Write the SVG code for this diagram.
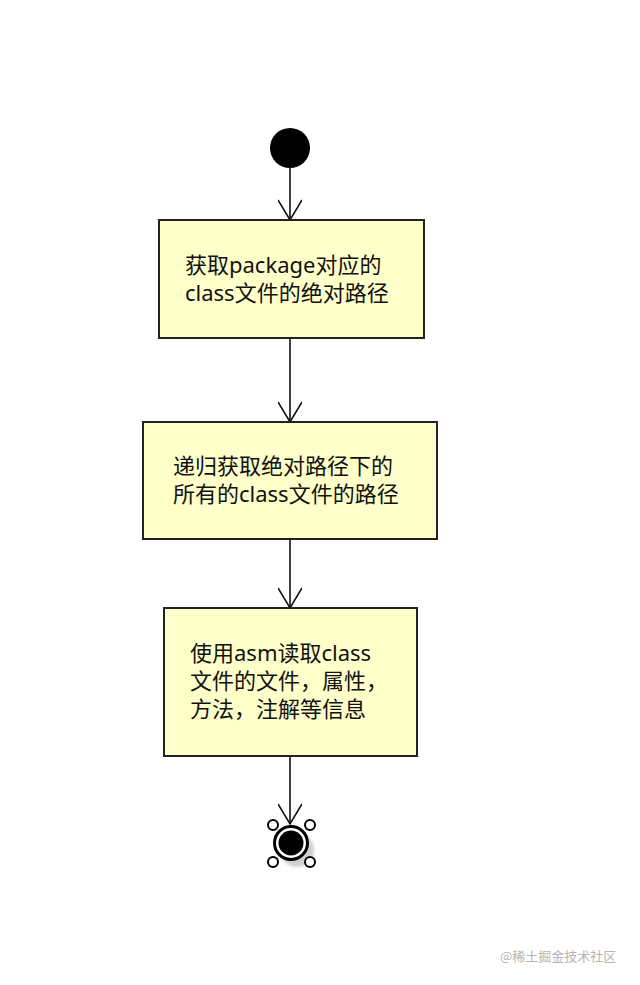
<svg xmlns="http://www.w3.org/2000/svg" width="640" height="985" viewBox="0 0 640 985">
<defs>
<style>
.box{fill:#FFFFCA;stroke:#222;stroke-width:2}
.t{font-family:"Noto Sans","Noto Sans CJK SC",sans-serif;font-size:22px;fill:#111}
.edge{stroke:#111;stroke-width:1.6;fill:none}
.wm{font-family:"Noto Sans CJK SC",sans-serif;font-size:13px;fill:#b4b4b4}
</style>
<marker id="arr" viewBox="0 0 30 24" refX="28" refY="12" markerWidth="30" markerHeight="24" markerUnits="userSpaceOnUse" orient="auto">
<path d="M8,0 L28,12 L8,24" fill="none" stroke="#111" stroke-width="1.6"/>
</marker>
<filter id="blur" x="-50%" y="-50%" width="200%" height="200%"><feGaussianBlur stdDeviation="1.5"/></filter>
</defs>
<rect width="640" height="985" fill="#fff"/>
<g id="connectors">
<line class="edge" x1="290" y1="168" x2="290" y2="220" marker-end="url(#arr)"/>
<line class="edge" x1="290" y1="339" x2="290" y2="422" marker-end="url(#arr)"/>
<line class="edge" x1="290" y1="540" x2="290" y2="608" marker-end="url(#arr)"/>
<line class="edge" x1="290" y1="757" x2="290" y2="824" marker-end="url(#arr)"/>
</g>
<g id="start">
<circle cx="290" cy="148" r="20" fill="#000"/>
</g>
<g id="n1">
<rect class="box" x="159" y="220" width="265" height="118"/>
<text class="t" x="185" y="273">获取package对应的</text>
<text class="t" x="185" y="301">class文件的绝对路径</text>
</g>
<g id="n2">
<rect class="box" x="143" y="422" width="294" height="117"/>
<text class="t" x="173" y="474">递归获取绝对路径下的</text>
<text class="t" x="173" y="502">所有的class文件的路径</text>
</g>
<g id="n3">
<rect class="box" x="164" y="608" width="253" height="148"/>
<text class="t" x="190" y="661">使用asm读取class</text>
<text class="t" x="190" y="689">文件的文件，属性，</text>
<text class="t" x="190" y="717">方法，注解等信息</text>
</g>
<g id="end">
<circle cx="297" cy="850" r="17" fill="#d0d0d0" filter="url(#blur)"/>
<circle cx="291" cy="843" r="16.5" fill="#fff" stroke="#000" stroke-width="3"/>
<circle cx="291" cy="843" r="12.5" fill="#000"/>
<circle cx="273" cy="825" r="5" fill="#fff" stroke="#000" stroke-width="2"/>
<circle cx="310" cy="825" r="5" fill="#fff" stroke="#000" stroke-width="2"/>
<circle cx="273" cy="862" r="5" fill="#fff" stroke="#000" stroke-width="2"/>
<circle cx="310" cy="862" r="5" fill="#fff" stroke="#000" stroke-width="2"/>
</g>
<text class="wm" x="500" y="961">@稀土掘金技术社区</text>
</svg>
